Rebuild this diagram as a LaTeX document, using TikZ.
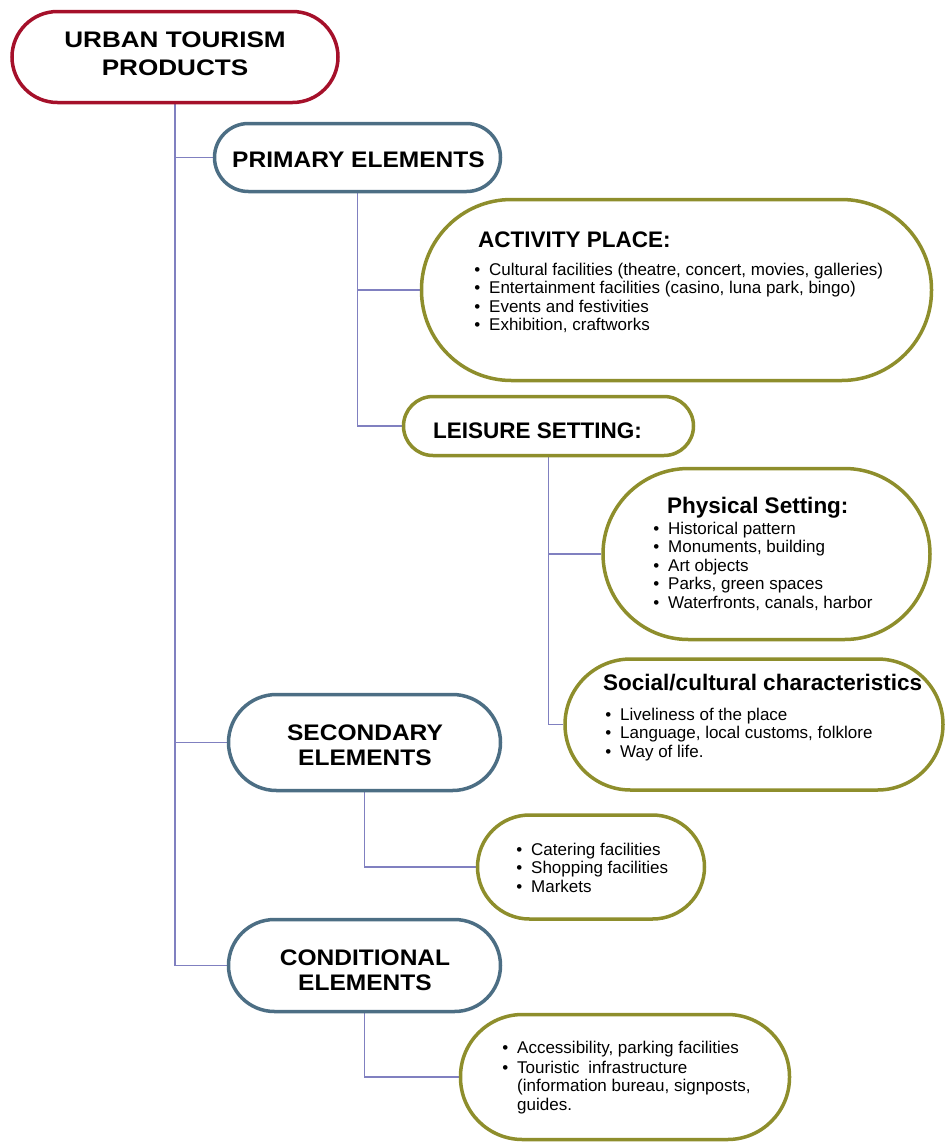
\documentclass[tikz,border=0pt]{standalone}
\usepackage{fontspec}
\setmainfont{Liberation Sans}
\usepackage{graphicx}
\usetikzlibrary{backgrounds}
\definecolor{rootred}{RGB}{165,16,42}
\definecolor{bluegrey}{RGB}{76,110,132}
\definecolor{olivec}{RGB}{142,142,44}
\definecolor{linkc}{RGB}{128,128,192}
\newcommand{\hdA}[1]{\scalebox{1.16}[1]{#1}}
\newcommand{\hdB}[1]{\scalebox{1.09}[1]{#1}}
\newcommand{\itm}{\llap{•\hspace{9pt}}}
\begin{document}
\begin{tikzpicture}[x=1pt,y=-1pt,
  pill/.style={draw, line width=3.5pt, fill=white, rounded corners=#1, inner sep=0pt},
  redpill/.style={pill=#1, draw=rootred},
  bluepill/.style={pill=#1, draw=bluegrey},
  olivepill/.style={pill=#1, draw=olivec},
  head/.style={inner sep=0pt, anchor=base, font=\fontsize{22.5}{28}\selectfont\bfseries},
  headl/.style={inner sep=0pt, anchor=base west, font=\fontsize{22.5}{28}\selectfont\bfseries},
  body/.style={inner sep=0pt, anchor=base west, font=\fontsize{17}{18.6}\selectfont},
  link/.style={draw=linkc, line width=1.3pt}]
\useasboundingbox (0,0) rectangle (945,1144);

% boxes
\node[redpill=45.5pt, minimum width=326pt, minimum height=91pt] (root) at (175,57) {};
\node[bluepill=34pt, minimum width=286pt, minimum height=68pt] (prim) at (357.5,157.5) {};
\node[olivepill=90pt, minimum width=510pt, minimum height=181pt] (act) at (676.5,290) {};
\node[olivepill=29.5pt, minimum width=290pt, minimum height=59pt] (leis) at (548.5,426) {};
\node[olivepill=85.5pt, minimum width=327pt, minimum height=171pt] (phys) at (766.5,554) {};
\node[olivepill=65.5pt, minimum width=378pt, minimum height=131pt] (soc) at (754,724.5) {};
\node[bluepill=48pt, minimum width=272pt, minimum height=96pt] (sec) at (364.5,742.5) {};
\node[olivepill=52pt, minimum width=227pt, minimum height=104pt] (cat) at (591,867) {};
\node[bluepill=46pt, minimum width=272pt, minimum height=92pt] (cond) at (364.5,965.5) {};
\node[olivepill=62pt, minimum width=329pt, minimum height=125pt] (acc) at (625,1077) {};

% connectors
\begin{pgfonlayer}{background}
\draw[link] (root.south) |- (prim.west);
\draw[link] (root.south) |- (sec.west);
\draw[link] (root.south) |- (cond.west);
\draw[link] (prim.south) |- (act.west);
\draw[link] (prim.south) |- (leis.west);
\draw[link] (leis.south) |- (phys.west);
\draw[link] (leis.south) |- (soc.west);
\draw[link] (sec.south) |- (cat.west);
\draw[link] (cond.south) |- (acc.west);
\end{pgfonlayer}

% headings
\node[head] (roottxt) at (175,47) {\begin{tabular}[t]{@{}c@{}}\hdA{URBAN TOURISM}\\\hdA{PRODUCTS}\end{tabular}};
\node[head] (primtxt) at (358.5,167) {\hdB{PRIMARY ELEMENTS}};
\node[headl] (acttxt) at (478,247) {ACTIVITY PLACE:};
\node[headl] (leistxt) at (433,438) {LEISURE SETTING:};
\node[headl] (phystxt) at (667,513) {Physical Setting:};
\node[headl] (soctxt) at (603,690) {Social/cultural characteristics};
\node[head, font=\fontsize{22.5}{25}\selectfont\bfseries] (sectxt) at (365,740) {\begin{tabular}[t]{@{}c@{}}\hdB{SECONDARY}\\\hdB{ELEMENTS}\end{tabular}};
\node[head, font=\fontsize{22.5}{25}\selectfont\bfseries] (condtxt) at (365,965) {\begin{tabular}[t]{@{}c@{}}\hdB{CONDITIONAL}\\\hdB{ELEMENTS}\end{tabular}};

% lists
\node[body] (actlist) at (489,275) {\begin{tabular}[t]{@{}l@{}}
\itm Cultural facilities (theatre, concert, movies, galleries)\\
\itm Entertainment facilities (casino, luna park, bingo)\\
\itm Events and festivities\\
\itm Exhibition, craftworks
\end{tabular}};
\node[body] (physlist) at (668,534) {\begin{tabular}[t]{@{}l@{}}
\itm Historical pattern\\
\itm Monuments, building\\
\itm Art objects\\
\itm Parks, green spaces\\
\itm Waterfronts, canals, harbor
\end{tabular}};
\node[body] (soclist) at (620,720) {\begin{tabular}[t]{@{}l@{}}
\itm Liveliness of the place\\
\itm Language, local customs, folklore\\
\itm Way of life.
\end{tabular}};
\node[body] (catlist) at (531,855) {\begin{tabular}[t]{@{}l@{}}
\itm Catering facilities\\
\itm Shopping facilities\\
\itm Markets
\end{tabular}};
\node[body] (acclist) at (517,1053) {\begin{tabular}[t]{@{}l@{}}
\itm Accessibility, parking facilities\\[1.5pt]
\itm Touristic\hspace{4pt} infrastructure\\
(information bureau, signposts,\\
guides.
\end{tabular}};
\end{tikzpicture}
\end{document}
